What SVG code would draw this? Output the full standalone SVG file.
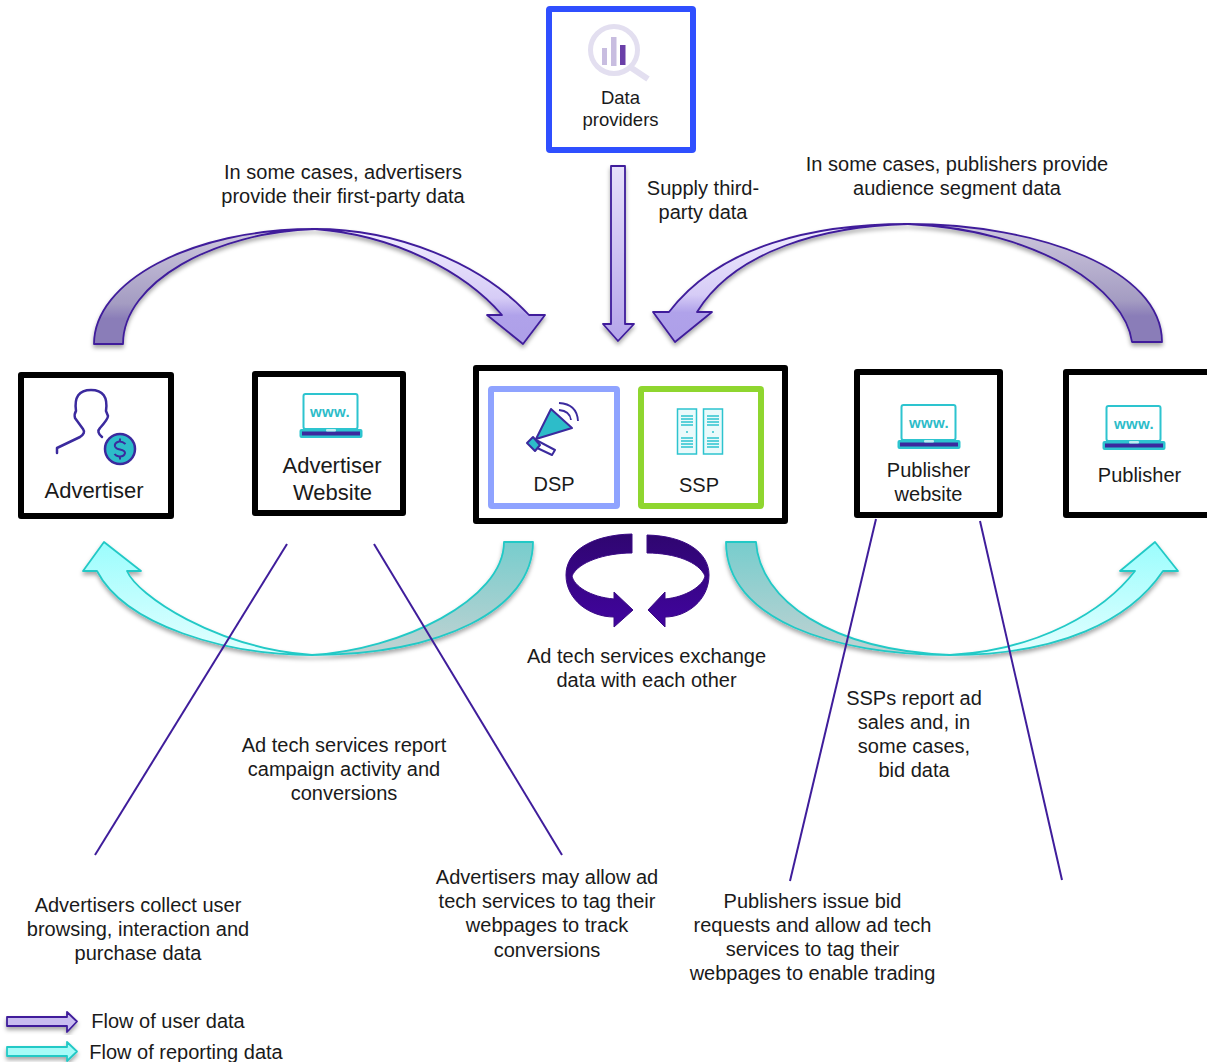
<svg xmlns="http://www.w3.org/2000/svg" width="1207" height="1062" viewBox="0 0 1207 1062">
<style>
text{font-family:"Liberation Sans",Arial,sans-serif;font-size:20px;fill:#1a1a1a;text-anchor:middle}
.box{fill:#fff;stroke:#000;stroke-width:6;stroke-linejoin:round}
.u{stroke:#3f1d9b;stroke-width:1.800;stroke-linejoin:round}
.r{stroke:#22c9c6;stroke-width:1.800;stroke-linejoin:round}
.ln{stroke:#3f1d9b;stroke-width:2;fill:none}
.www{font-size:15px;font-weight:bold;fill:#2dbcc9;letter-spacing:.4px}
.tl{fill:none;stroke:#2dc4cf;stroke-width:2}
</style>
<defs>
<filter id="sh" x="-10%" y="-10%" width="120%" height="125%"><feDropShadow dx="0" dy="3" stdDeviation="2" flood-color="#000" flood-opacity=".35"/></filter>
<linearGradient id="uDark" x1="0" y1="0" x2="0" y2="1"><stop offset="0" stop-color="#cfc9de"/><stop offset=".65" stop-color="#a49cc2"/><stop offset=".78" stop-color="#8a7db8"/><stop offset="1" stop-color="#8a7db8"/></linearGradient>
<linearGradient id="uLight" x1="0" y1="0" x2="0" y2="1"><stop offset="0" stop-color="#f2eeff"/><stop offset=".6" stop-color="#d6ccf6"/><stop offset=".75" stop-color="#b0a2ea"/><stop offset="1" stop-color="#ad9fe8"/></linearGradient>
<linearGradient id="uDown" x1="0" y1="0" x2="0" y2="1"><stop offset="0" stop-color="#e6e0fa"/><stop offset="1" stop-color="#b5a5ea"/></linearGradient>
<linearGradient id="rDark" x1="0" y1="0" x2="0" y2="1"><stop offset="0" stop-color="#77cdcd"/><stop offset="1" stop-color="#c2d2d2"/></linearGradient>
<linearGradient id="rLight" x1="0" y1="0" x2="0" y2="1"><stop offset="0" stop-color="#9bfdfd"/><stop offset="1" stop-color="#e4ffff"/></linearGradient>
<linearGradient id="swirl" x1="0" y1="0" x2="0" y2="1"><stop offset="0" stop-color="#2f0670"/><stop offset="1" stop-color="#41049f"/></linearGradient>
<g id="laptop">
<rect x="4.500" y="1" width="54" height="35" rx="2" class="tl"/>
<rect x="0.500" y="36" width="63" height="9" rx="2" fill="#2dc4cf"/>
<rect x="3" y="38.500" width="58" height="4" fill="#3b2a9e"/>
<rect x="27" y="36" width="10" height="2.500" rx="1" fill="#bdeef2"/>
</g>
</defs>

<g id="connectors">
<g id="user-left" filter="url(#sh)">
<path class="u" fill="url(#uDark)" d="M94,344C94,282 190,229 315,229C215,232 123,282 123,344Z"/>
<path class="u" fill="url(#uLight)" d="M315,229C395,229 480,262 529,315L545,315L523,344L487,315L502,315C465,272 395,235 315,229Z"/>
</g>
<g id="user-right" filter="url(#sh)">
<path class="u" fill="url(#uDark)" d="M1162,342C1162,270 1040,224 908,224C1040,230 1125,290 1132,342Z"/>
<path class="u" fill="url(#uLight)" d="M908,224C815,224 720,245 669,312L653,312L675,342L712,312L697,312C735,250 825,226 908,224Z"/>
</g>
<path id="user-down" class="u" fill="url(#uDown)" filter="url(#sh)" d="M611,166H625V324H634L618,341L603,324H611Z"/>
<g id="report-left" filter="url(#sh)">
<path class="r" fill="url(#rDark)" d="M504,542H533C533,610 440,655 312,655C400,650 504,600 504,542Z"/>
<path class="r" fill="url(#rLight)" d="M312,655C225,655 125,625 97,571H83L104,542L141,571H127C137,595 215,648 312,655Z"/>
</g>
<g id="report-right" filter="url(#sh)">
<path class="r" fill="url(#rDark)" d="M726,542H756C760,600 830,650 950,655C835,655 726,620 726,542Z"/>
<path class="r" fill="url(#rLight)" d="M950,655C1060,655 1130,620 1163,571H1178L1155,542L1120,571H1135C1105,610 1040,650 950,655Z"/>
</g>
<g id="exchange" fill="url(#swirl)" stroke="#3a0a85" stroke-width="1">
<path d="M632,534V553C605,553 578,562 572,576C574,586 590,597 614,599V592L633,610L614,627V617C590,617 566,600 566,575C566,552 590,535 632,534Z"/>
<path d="M647,535C685,536 709,552 709,575C709,600 687,617 665,617V627L648,610L665,592V599C686,597 703,586 705,576C699,562 675,553 647,553Z"/>
</g>
<line class="ln" x1="287" y1="544" x2="95" y2="855"/>
<line class="ln" x1="374" y1="544" x2="562" y2="855"/>
<line class="ln" x1="876" y1="519" x2="790" y2="881"/>
<line class="ln" x1="980" y1="521" x2="1062" y2="880"/>
</g>

<g id="data-providers">
<rect x="549" y="9" width="144" height="141" rx="1" fill="#fff" stroke="#2f4fff" stroke-width="6" stroke-linejoin="round"/>
<circle cx="614" cy="50" r="23.500" fill="none" stroke="#e3dff0" stroke-width="5"/>
<path d="M630,67L648,79" stroke="#e3dff0" stroke-width="6" fill="none"/>
<rect x="602" y="48" width="5" height="17" fill="#c8bde0"/>
<rect x="611" y="37" width="5.500" height="29" fill="#c8bde0"/>
<rect x="620" y="45" width="5.500" height="20" fill="#6a3fa8"/>
<text x="620.500" y="104" style="font-size:18.500px">Data</text>
<text x="620.500" y="126" style="font-size:18.500px">providers</text>
</g>

<g id="advertiser">
<rect class="box" x="21" y="375" width="150" height="141"/>
<path d="M57,453V448L80,437Q86,433 83,429L75,418Q74,414 76,411Q73,390 91,390Q109,390 106,411L108,416Q108,419 100,428Q96,432 102,437" fill="none" stroke="#3b2a9e" stroke-width="2.500" stroke-linecap="round" stroke-linejoin="round"/>
<circle cx="120" cy="449" r="15" fill="#2dbcc9" stroke="#3b2a9e" stroke-width="2.500"/>
<path d="M125.500,444Q122,441 119,441.500Q114,443 115,446.500Q116,449 120,449.500Q125,450.500 125,453Q124,457 119,456.500Q116,456 114.500,454M120,438.500V441.500M120,456.500V459.500" fill="none" stroke="#3b2a9e" stroke-width="2"/>
<text x="94" y="498" style="font-size:22px">Advertiser</text>
</g>

<g id="advertiser-website">
<rect class="box" x="255" y="374" width="148" height="139"/>
<use href="#laptop" x="299" y="393"/>
<text class="www" x="330" y="417">www.</text>
<text x="332" y="473" style="font-size:22px">Advertiser</text>
<text x="332.500" y="500" style="font-size:22px">Website</text>
</g>

<g id="ad-tech">
<rect class="box" x="476" y="368" width="309" height="153"/>
<g id="dsp">
<rect x="491" y="389" width="126" height="117" rx="1" fill="#fff" stroke="#8fa3ff" stroke-width="6"/>
<path d="M551,409L572,428L536,439Z" fill="#2dbcc9" stroke="#3b2a9e" stroke-width="2" stroke-linejoin="round"/>
<path d="M536,440L555,450L552,455L533,446Z" fill="#fff" stroke="#3b2a9e" stroke-width="2" stroke-linejoin="round"/>
<path d="M533,437L527,443L535,451L540,445Z" fill="#2dbcc9" stroke="#3b2a9e" stroke-width="2" stroke-linejoin="round"/>
<path d="M559,403Q577,404 578,421M559,410Q570,411 571,420" fill="none" stroke="#3b2a9e" stroke-width="1.800"/>
<text x="554" y="491">DSP</text>
</g>
<g id="ssp">
<rect x="641" y="389" width="120" height="117" rx="1" fill="#fff" stroke="#8fd62f" stroke-width="6"/>
<g fill="#eafafb" stroke="#2dc4cf" stroke-width="1.500">
<rect x="677.500" y="409" width="19" height="45"/>
<rect x="703.500" y="409" width="19" height="45"/>
</g>
<path d="M681,416H693M681,419H693M681,422H693M681,425H693M681,438H693M681,441H693M681,444H693M681,447H693M707,416H719M707,419H719M707,422H719M707,425H719M707,438H719M707,441H719M707,444H719M707,447H719" stroke="#2dc4cf" stroke-width="1.500" fill="none"/>
<circle cx="687" cy="432" r="1" fill="#2dc4cf"/>
<circle cx="713" cy="432" r="1" fill="#2dc4cf"/>
<text x="699" y="492">SSP</text>
</g>
</g>

<g id="publisher-website">
<rect class="box" x="857" y="372" width="143" height="143"/>
<use href="#laptop" x="897" y="404"/>
<text class="www" x="929" y="428">www.</text>
<text x="928.500" y="477">Publisher</text>
<text x="928.500" y="501">website</text>
</g>

<g id="publisher">
<rect class="box" x="1066" y="372" width="150" height="143"/>
<use href="#laptop" x="1102" y="405"/>
<text class="www" x="1134" y="429">www.</text>
<text x="1139.500" y="482">Publisher</text>
</g>

<g id="labels">
<text x="343" y="179">In some cases, advertisers</text>
<text x="343" y="203">provide their first-party data</text>
<text x="703" y="195">Supply third-</text>
<text x="703" y="219">party data</text>
<text x="957" y="171">In some cases, publishers provide</text>
<text x="957" y="195">audience segment data</text>
<text x="646.500" y="663">Ad tech services exchange</text>
<text x="646.500" y="687">data with each other</text>
<text x="344" y="752">Ad tech services report</text>
<text x="344" y="776">campaign activity and</text>
<text x="344" y="800">conversions</text>
<text x="914" y="705">SSPs report ad</text>
<text x="914" y="729">sales and, in</text>
<text x="914" y="753">some cases,</text>
<text x="914" y="777">bid data</text>
<text x="138" y="912">Advertisers collect user</text>
<text x="138" y="936">browsing, interaction and</text>
<text x="138" y="960">purchase data</text>
<text x="547" y="884">Advertisers may allow ad</text>
<text x="547" y="908">tech services to tag their</text>
<text x="547" y="932">webpages to track</text>
<text x="547" y="957">conversions</text>
<text x="812.500" y="908">Publishers issue bid</text>
<text x="812.500" y="932">requests and allow ad tech</text>
<text x="812.500" y="956">services to tag their</text>
<text x="812.500" y="980">webpages to enable trading</text>
</g>

<g id="legend">
<path class="u" fill="#c9bdf0" filter="url(#sh)" d="M7,1017H67V1012L77,1021.500L67,1032V1026H7Z"/>
<text x="168" y="1028">Flow of user data</text>
<path class="r" fill="#a6fbf8" filter="url(#sh)" d="M7,1047H67V1042L77,1051.500L67,1061V1056H7Z"/>
<text x="186" y="1059">Flow of reporting data</text>
</g>
</svg>
